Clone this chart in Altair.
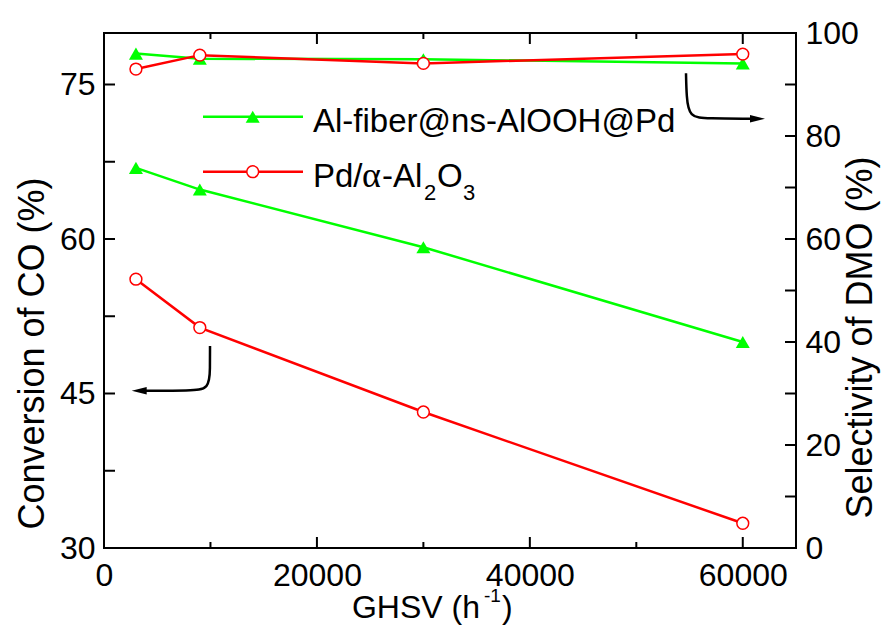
import altair as alt
import pandas as pd

# ---------------- data ----------------
ghsv = [3000, 9000, 30000, 60000]
conv_fiber = [66.9, 64.8, 59.2, 50.0]
conv_pd = [56.1, 51.4, 43.2, 32.4]
sel_fiber = [96.0, 95.0, 94.9, 94.1]
sel_pd = [93.0, 95.7, 94.1, 95.9]

x_ticks = [0, 20000, 40000, 60000]
x_minor = [10000, 30000, 50000]
left_ticks = [30, 45, 60, 75]
left_minor = [37.5, 52.5, 67.5]
right_ticks = [0, 20, 40, 60, 80, 100]
right_minor = [10, 30, 50, 70, 90]

# annotation arrows, in data units (GHSV, conversion %)
arrow1_x = [9957, 9957, 9910, 8078, 3945]
arrow1_y = [49.61, 47.48, 45.39, 45.29, 45.27]
arrow1_head_x = [3306]
arrow1_head_y = [45.27]
arrow2_x = [54668, 54715, 54950, 56734, 60680]
arrow2_y = [76.09, 73.88, 71.80, 71.70, 71.68]
arrow2_head_x = [61384]
arrow2_head_y = [71.68]

GREEN = "#00ff00"
RED = "#ff0000"
FONT = "Liberation Sans"
W, H = 692, 515

df_cf = pd.DataFrame({"x": ghsv, "v": conv_fiber})
df_cp = pd.DataFrame({"x": ghsv, "v": conv_pd})
df_sf = pd.DataFrame({"x": ghsv, "v": sel_fiber})
df_sp = pd.DataFrame({"x": ghsv, "v": sel_pd})
one = pd.DataFrame({"a": [0]})

X = alt.X("x:Q", scale=alt.Scale(domain=[0, 65000], nice=False, zero=False),
          axis=alt.Axis(values=x_ticks, format="d", title=None, labelFlush=False,
                        labelPadding=12))
YL = alt.Y("v:Q", scale=alt.Scale(domain=[30, 80], nice=False, zero=False),
           axis=alt.Axis(values=left_ticks, title="Conversion of CO (%)", titleAngle=270,
                         titleX=-72, titleY=320, titleBaseline="middle", titleAlign="center",
                         labelPadding=9, labelFlush=False))
YR = alt.Y("v:Q", scale=alt.Scale(domain=[0, 100], nice=False, zero=False),
           axis=alt.Axis(orient="right", values=right_ticks, title="Selectivity of DMO (%)",
                         titleAngle=270, titleX=64, titleY=304, titleBaseline="middle",
                         titleAlign="center", labelPadding=9, labelFlush=False))


def line(df, color, Y):
    return alt.Chart(df).mark_line(color=color, strokeWidth=2.5).encode(x=X, y=Y)


def tri(df, Y):
    return alt.Chart(df).mark_point(shape="triangle-up", filled=True, color=GREEN,
                                    size=196, opacity=1).encode(x=X, y=Y)


def circ(df, Y):
    return alt.Chart(df).mark_point(shape="circle", filled=True, fill="white", stroke=RED,
                                    strokeWidth=1.5, size=140, opacity=1).encode(x=X, y=Y)


def txt(s, x, y, size, font=FONT, align="left", baseline="alphabetic"):
    return alt.Chart(one).mark_text(text=s, align=align, baseline=baseline, font=font,
                                    fontSize=size, color="black").encode(
        x=alt.value(x), y=alt.value(y))


# inside ticks
def xticks(vals, length):
    d = pd.DataFrame({"x": vals})
    bot = alt.Chart(d).mark_rule(color="black", strokeWidth=2).encode(
        x=X, y=alt.value(H), y2=alt.value(H - length))
    top = alt.Chart(d).mark_rule(color="black", strokeWidth=2).encode(
        x=X, y=alt.value(0), y2=alt.value(length))
    return [bot, top]


def yticks(vals, Y, x0, x1):
    d = pd.DataFrame({"v": vals})
    return alt.Chart(d).mark_rule(color="black", strokeWidth=2).encode(
        y=Y, x=alt.value(x0), x2=alt.value(x1))


# arrows
a1 = alt.Chart(pd.DataFrame({"x": arrow1_x, "v": arrow1_y, "o": range(5)})).mark_line(
    color="black", strokeWidth=2.5, interpolate="basis").encode(x=X, y=YL, order="o:Q")
a1h = alt.Chart(pd.DataFrame({"x": arrow1_head_x, "v": arrow1_head_y})).mark_point(
    shape="M-1,0L1,-0.5L1,0.5Z", filled=True, color="black", size=225, opacity=1,
    strokeWidth=0).encode(x=X, y=YL)
a2 = alt.Chart(pd.DataFrame({"x": arrow2_x, "v": arrow2_y, "o": range(5)})).mark_line(
    color="black", strokeWidth=2.5, interpolate="basis").encode(x=X, y=YL, order="o:Q")
a2h = alt.Chart(pd.DataFrame({"x": arrow2_head_x, "v": arrow2_head_y})).mark_point(
    shape="M1,0L-1,-0.5L-1,0.5Z", filled=True, color="black", size=225, opacity=1,
    strokeWidth=0).encode(x=X, y=YL)

# legend (pixel positions inside plot)
leg = [
    alt.Chart(one).mark_rule(color=GREEN, strokeWidth=2.5).encode(
        x=alt.value(99), x2=alt.value(199), y=alt.value(83.7)),
    alt.Chart(one).mark_point(shape="triangle-up", filled=True, color=GREEN, size=196,
                              opacity=1).encode(x=alt.value(148.7), y=alt.value(83.7)),
    txt("Al-fiber@ns-AlOOH@Pd", 209, 98.7, 33),
    alt.Chart(one).mark_rule(color=RED, strokeWidth=2.5).encode(
        x=alt.value(99), x2=alt.value(199), y=alt.value(138.7)),
    alt.Chart(one).mark_point(shape="circle", filled=True, fill="white", stroke=RED,
                              strokeWidth=1.5, size=140, opacity=1).encode(
        x=alt.value(148.7), y=alt.value(138.7)),
    txt("Pd/", 209, 153.7, 33),
    txt("α", 258, 153.7, 36, font="Liberation Serif"),
    txt("-Al", 278, 153.7, 33),
    txt("2", 320, 167, 22),
    txt("O", 333, 153.7, 33),
    txt("3", 359, 167, 22),
]

# x-axis title (manual, with superscript)
xt = [
    txt("GHSV (h", 376, 585, 32, align="right"),
    txt("-1", 380, 569, 19),
    txt(")", 398, 585, 32),
]

left = alt.layer(
    *xticks(x_ticks, 11), *xticks(x_minor, 6),
    yticks(left_ticks, YL, 0, 11), yticks(left_minor, YL, 0, 11),
    line(df_cf, GREEN, YL), tri(df_cf, YL),
    line(df_cp, RED, YL), circ(df_cp, YL),
    a1, a1h, a2, a2h,
    *leg, *xt,
)

right = alt.layer(
    yticks(right_ticks, YR, W, W - 11), yticks(right_minor, YR, W, W - 11),
    line(df_sf, GREEN, YR), tri(df_sf, YR),
    line(df_sp, RED, YR), circ(df_sp, YR),
)

chart = alt.layer(left, right).resolve_scale(y="independent").properties(
    width=W, height=H,
    padding={"left": 104, "top": 33, "right": 99, "bottom": 82},
    autosize=alt.AutoSizeParams(type="none"),
    background="white",
).configure_view(stroke="black", strokeWidth=2).configure_axis(
    domain=False, ticks=False, grid=False,
    labelFont=FONT, labelFontSize=32, labelColor="black",
    titleFont=FONT, titleFontSize=36, titleColor="black", titleFontWeight="normal",
)

chart.save("out.html", embed_options={"renderer": "svg", "actions": False})
